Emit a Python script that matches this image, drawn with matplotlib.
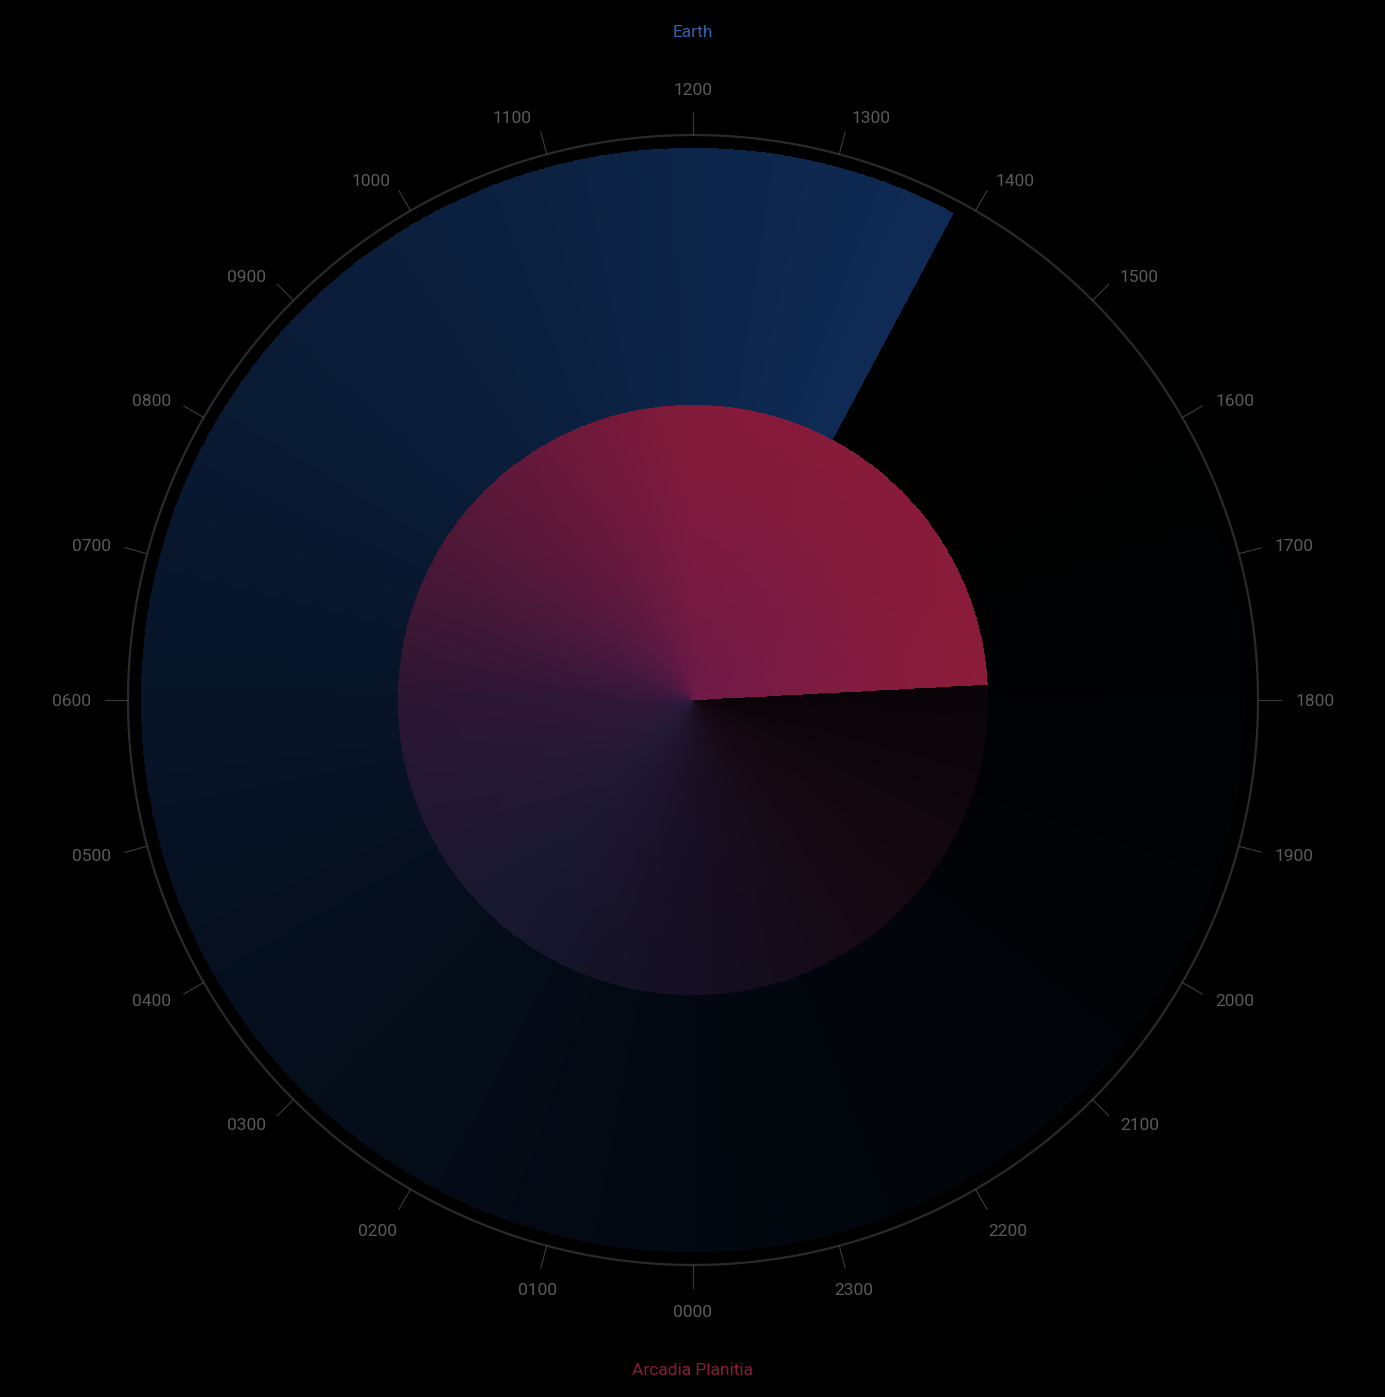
import numpy as np
import matplotlib
matplotlib.use('Agg')
import matplotlib.pyplot as plt

# local clock times shown on the dial (hours)
earth_time = 13.87
mars_time = 17.80
earth_name = 'Earth'
mars_name = 'Arcadia Planitia'

hour_values = [0, 1, 2, 3, 4, 5, 6, 7, 8, 9, 10, 11,
               12, 13, 14, 15, 16, 17, 18, 19, 20, 21, 22, 23]
hour_labels = ['0000', '0100', '0200', '0300', '0400', '0500', '0600', '0700',
               '0800', '0900', '1000', '1100', '1200', '1300', '1400', '1500',
               '1600', '1700', '1800', '1900', '2000', '2100', '2200', '2300']

# geometry in pixels
W, H = 1385, 1397
CX, CY = 693, 700
RMAX = 640
R_EARTH = 552
R_MARS = 295
R_RING = 565
TICK_LEN = 23
R_LABEL = 600

plt.rcParams['font.family'] = ['Roboto', 'DejaVu Sans']

fig = plt.figure(figsize=(W / 100, H / 100), dpi=100, facecolor='black')
ax = fig.add_axes([(CX - RMAX) / W, (H - CY - RMAX) / H, 2 * RMAX / W, 2 * RMAX / H],
                  projection='polar')
ax.set_theta_zero_location('S')
ax.set_theta_direction(-1)
ax.set_ylim(0, RMAX)
ax.set_axis_off()


def to_angle(hours):
    return hours / 24.0 * 2 * np.pi


def hex_rgb(h):
    h = h.lstrip('#')
    return np.array([int(h[i:i + 2], 16) for i in (0, 2, 4)]) / 255.0


def label_offset(hv):
    # pixel offset of the label centre from the point on the label circle
    side = -1 if hv < 12 else 1
    if hv in (0, 12):
        return 0, (11 if hv == 12 else -11)
    if hv == 1:
        return 0, -9
    if hv == 23:
        return 5, -9
    if hv in (2, 22):
        return side * 15, -10
    if hv == 11:
        return -26, 3
    if hv == 13:
        return 23, 3
    return side * 22, 0


# Earth: conic fade ending at the current time
n = 1440
th_e = to_angle(earth_time)
th = np.linspace(th_e - 2 * np.pi, th_e, n + 1)
r = np.array([0, R_EARTH])
T, R = np.meshgrid(th, r)
f = (np.arange(n) + 0.5) / n
blue = hex_rgb('#0f2b55')
C = (f[:, None] ** 1.9) * blue[None, :]
ax.pcolormesh(T, R, C[None, :, :], shading='flat', antialiased=False)

# Mars: conic gradient with purple tint toward the centre
th_m = to_angle(mars_time)
th = np.linspace(th_m - 2 * np.pi, th_m, n + 1)
r = np.linspace(0, R_MARS, 41)
T, R = np.meshgrid(th, r)
r_mid = (r[:-1] + r[1:]) / 2

edge_stops = [0.0, 0.13, 0.26, 0.38, 0.51, 0.63, 0.76, 1.0]
edge_cols = ['#0a0408', '#150810', '#140f22', '#181830', '#2c1632', '#5a1838',
             '#841a3a', '#8b1c3b']
centre_stops = [0.0, 0.15, 0.4, 0.7, 1.0]
centre_cols = ['#0a0408', '#1a0a18', '#3a1c42', '#4a1a55', '#4a1758']

edge = np.stack([np.interp(f, edge_stops, [hex_rgb(c)[k] for c in edge_cols])
                 for k in range(3)], axis=-1)
centre = np.stack([np.interp(f, centre_stops, [hex_rgb(c)[k] for c in centre_cols])
                   for k in range(3)], axis=-1)
w = 0.45 * (1 - r_mid / R_MARS) ** 1.5
C = (1 - w)[:, None, None] * edge[None, :, :] + w[:, None, None] * centre[None, :, :]
ax.pcolormesh(T, R, C, shading='flat', antialiased=False)

# dial ring, ticks and hour labels
ring = np.linspace(0, 2 * np.pi, 721)
ax.plot(ring, np.full_like(ring, R_RING), color='#2a2a2a', lw=1.6)
for hv, lab in zip(hour_values, hour_labels):
    a = to_angle(hv)
    ax.plot([a, a], [R_RING, R_RING + TICK_LEN], color='#3c3c3c', lw=0.8)
    ox, oy = label_offset(hv)
    ax.annotate(lab, xy=(a, R_LABEL), xytext=(ox, oy), textcoords='offset pixels',
                ha='center', va='center_baseline', color='#5a5a5a', fontsize=12.5,
                annotation_clip=False)

fig.text(CX / W, 1 - 31 / H, earth_name, ha='center', va='center_baseline',
         color='#2d62ad', fontsize=12.5)
fig.text(CX / W, 1 - 1369 / H, mars_name, ha='center', va='center_baseline',
         color='#8a1a3c', fontsize=12.5)

fig.savefig('out.png', dpi=100, facecolor='black')
